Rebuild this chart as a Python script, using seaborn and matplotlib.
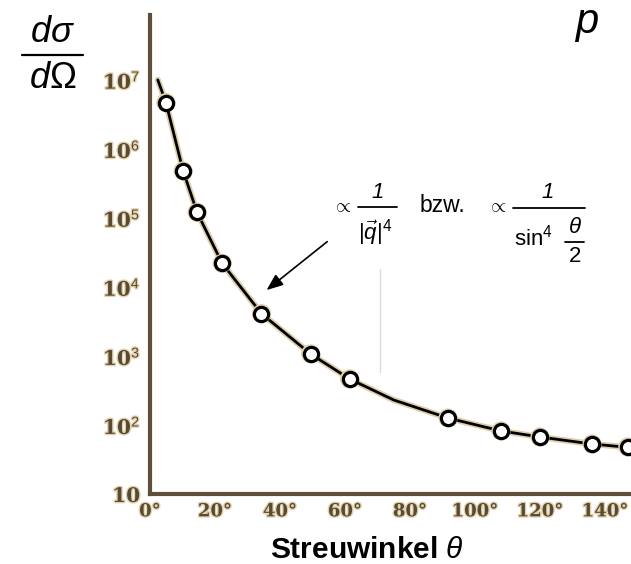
import matplotlib
matplotlib.use("Agg")
import matplotlib.pyplot as plt
import matplotlib.patheffects as pe
from matplotlib.lines import Line2D
import seaborn as sns

# measured points (scattering angle in degrees, cross section)
angle_deg = [4.9, 10.2, 14.5, 22.2, 34.3, 49.4, 61.4, 91.7, 108, 120, 136, 147]
sigma = [4.7e6, 4.8e5, 1.2e5, 2.2e4, 4.1e3, 1.07e3, 465, 126, 82, 67, 53, 48]

# curve
curve_deg = [2.4, 4.9, 10.2, 14.5, 22.2, 34.3, 49.4, 61.4, 75, 91.7, 108, 120, 136, 148]
curve_val = [1.0e7, 4.7e6, 4.8e5, 1.2e5, 2.2e4, 4.1e3, 1.07e3, 465, 230, 126, 82, 67, 53, 47]

xticks = [0, 20, 40, 60, 80, 100, 120, 140]
xticklabels = ["0°", "20°", "40°", "60°", "80°", "100°", "120°", "140°"]
yticks = [10, 1e2, 1e3, 1e4, 1e5, 1e6, 1e7]
yticklabels = ["10", r"10$^{2}$", r"10$^{3}$", r"10$^{4}$", r"10$^{5}$", r"10$^{6}$", r"10$^{7}$"]

sns.set_style("white")
plt.rcParams["font.family"] = ["Liberation Sans", "DejaVu Sans"]
plt.rcParams["text.color"] = "black"
plt.rcParams["mathtext.fontset"] = "custom"
plt.rcParams["mathtext.rm"] = "Liberation Sans"
plt.rcParams["mathtext.it"] = "Liberation Sans:italic"
plt.rcParams["mathtext.bf"] = "Liberation Sans:bold"

W, H = 631, 564
fig = plt.figure(figsize=(W / 100, H / 100), dpi=100)
ax = fig.add_axes([150 / W, 1 - 494 / H, 481 / W, 479 / H])
ax.set_yscale("log")

spine_c = "#5e4e3a"
halo = "#ddcfae"

sns.lineplot(x=curve_deg, y=curve_val, ax=ax, color=halo, lw=4.5, sort=False, zorder=2)
sns.lineplot(x=curve_deg, y=curve_val, ax=ax, color="black", lw=2.0, sort=False, zorder=3)
ax.scatter(angle_deg, sigma, s=190, c=halo, edgecolors="none", zorder=4)
sns.scatterplot(x=angle_deg, y=sigma, ax=ax, s=105, facecolor="white", edgecolor="black",
                linewidth=2.3, zorder=5)

# faint vertical line artifact
ax.plot([70.7, 70.7], [1.8e4, 590], color="#dcdcdc", lw=1, zorder=1)

ax.set_xlim(0, 148)
ax.set_ylim(10, 10 ** 7.94)
ax.set_xticks(xticks)
ax.set_yticks(yticks)
ax.yaxis.set_minor_locator(matplotlib.ticker.NullLocator())
ax.set_xticklabels(xticklabels)
ax.set_yticklabels(yticklabels)

for s in ["top", "right"]:
    ax.spines[s].set_visible(False)
for s in ["left", "bottom"]:
    ax.spines[s].set_color(spine_c)
    ax.spines[s].set_linewidth(3)

ax.tick_params(axis="both", direction="in", length=5, width=2.5, color=spine_c)
ax.tick_params(axis="x", pad=6)
ax.tick_params(axis="y", pad=7)
for lab in ax.get_xticklabels():
    lab.set_fontsize(13)
for lab in ax.get_yticklabels():
    lab.set_fontsize(14.5)
for lab in ax.get_xticklabels() + ax.get_yticklabels():
    lab.set_family("DejaVu Serif")
    lab.set_weight("bold")
    lab.set_color("#5a4a32")
    lab.set_path_effects([pe.withStroke(linewidth=2, foreground="#e2d4b2")])

# arrow
ax.annotate("", xy=(35.2, 8.5e3), xytext=(55.2, 4.8e4),
            arrowprops=dict(arrowstyle="-|>,head_length=1.0,head_width=0.4",
                            color="black", lw=1.2), zorder=6)


def fx(x):
    return x / W


def fy(y):
    return 1 - y / H


def hline(x0, x1, y, lw=1.3):
    fig.add_artist(Line2D([fx(x0), fx(x1)], [fy(y), fy(y)], color="black", lw=lw,
                          transform=fig.transFigure))


def txt(x, y, s, size, **kw):
    fig.text(fx(x), fy(y), s, fontsize=size, ha="center", va="center", **kw)


# y-axis quantity  d sigma / d Omega
txt(53, 32, r"$d\sigma$", 26)
hline(22, 83, 55, lw=1.6)
txt(53, 78, r"$d\mathit{\Omega}$", 26)

# p in the top right corner (tight mathtext box)
fig.text(fx(586), fy(4), r"$\mathit{p}$", fontsize=30, ha="center", va="top")

# x label
txt(367, 550, r"Streuwinkel $\mathit{\theta}$", 21.5, fontweight="bold")

# formula 1
txt(342, 207, r"$\propto$", 14)
txt(378, 193, "1", 16, style="italic")
hline(358, 397, 207)
txt(375, 233, r"$|\vec{\mathit{q}}|^{\mathit{4}}$", 16)
# bzw.
txt(442, 206, "bzw.", 16.5)
# formula 2
txt(497, 207, r"$\propto$", 14)
txt(548, 193, "1", 16, style="italic")
hline(513, 585, 208)
txt(533, 238, r"sin$^{4}$", 16)
txt(575, 227, r"$\mathit{\theta}$", 16)
hline(565, 584, 242)
txt(575, 257, "2", 16)

fig.savefig("out.png", dpi=100)
